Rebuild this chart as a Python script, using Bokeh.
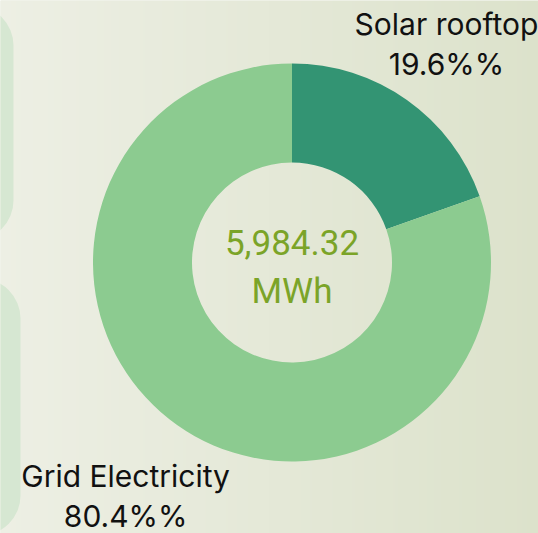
import numpy as np
from bokeh.plotting import figure
from bokeh.models import Range1d, ColumnDataSource
from bokeh.embed import file_html
from bokeh.resources import INLINE
from bokeh.core.properties import value

# ---- data ----
categories = ["Solar rooftop", "Grid Electricity"]
shares = [19.6, 80.4]
colors = ["#339473", "#8CCB90"]
total_value = "5,984.32"
total_unit = "MWh"

W, H = 538, 533
CX, CY = 291.5, H - 262
R_IN, R_OUT = 100, 199

p = figure(width=W, height=H, x_range=Range1d(0, W), y_range=Range1d(0, H),
           output_backend="svg", toolbar_location=None, min_border=0)
p.margin = (0, 0, 0, 0)
p.axis.visible = False
p.grid.visible = False
p.outline_line_color = None
p.background_fill_color = "#E6E9DA"
p.border_fill_color = "#E6E9DA"

# background gradient
left = np.array([0xED, 0xEF, 0xE4], dtype=float)
right = np.array([0xDC, 0xE2, 0xCB], dtype=float)
t = np.linspace(0, 1, W)
rgb = (left[None, :] * (1 - t[:, None]) + right[None, :] * t[:, None]).round().astype(np.uint32)
img = np.empty((1, W), dtype=np.uint32)
img[0, :] = (0xFF << 24) | (rgb[:, 2] << 16) | (rgb[:, 1] << 8) | rgb[:, 0]
p.image_rgba(image=[img], x=0, y=0, dw=W, dh=H)

# decorative side panels
p.quad(left=-80, right=13, bottom=H - 240, top=H - 5, border_radius=40,
       fill_color="#D6E7D2", line_color=None)
p.quad(left=-80, right=20, bottom=H - 535, top=H - 278, border_radius=40,
       fill_color="#D6E7D2", line_color=None)

# donut
fr = np.array(shares) / sum(shares)
ends = np.pi / 2 - 2 * np.pi * np.cumsum(fr)
starts = np.concatenate([[np.pi / 2], ends[:-1]])
src = ColumnDataSource(dict(start=starts, end=ends, color=colors, cat=categories))
p.annular_wedge(x=CX, y=CY, inner_radius=R_IN, outer_radius=R_OUT,
                start_angle="start", end_angle="end", direction="clock",
                fill_color="color", line_color=None, source=src)

# labels
mids = (starts + ends) / 2
R_LAB = 288
lx = CX + R_LAB * np.cos(mids)
ly = CY + R_LAB * np.sin(mids)
lx = np.clip(lx, 93, W - 92)
ly = np.clip(ly, 38, H - 43)
l1 = [c for c in categories]
l2 = [f"{s}%%" for s in shares]
p.text(x=lx, y=ly + 20, text=l1, text_align="center", text_baseline="middle",
       text_font=value("Inter"), text_font_size="30px", text_color="#111111")
p.text(x=lx, y=ly - 20, text=l2, text_align="center", text_baseline="middle",
       text_font=value("Inter"), text_font_size="30px", text_color="#111111")

# center text
p.text(x=[CX, CX], y=[CY + 20, CY - 29], text=[total_value, total_unit],
       text_align="center", text_baseline="middle",
       text_font=value("Roboto"), text_font_size="35px", text_color="#7BA428")

open("out.html", "w").write(file_html(p, INLINE))
